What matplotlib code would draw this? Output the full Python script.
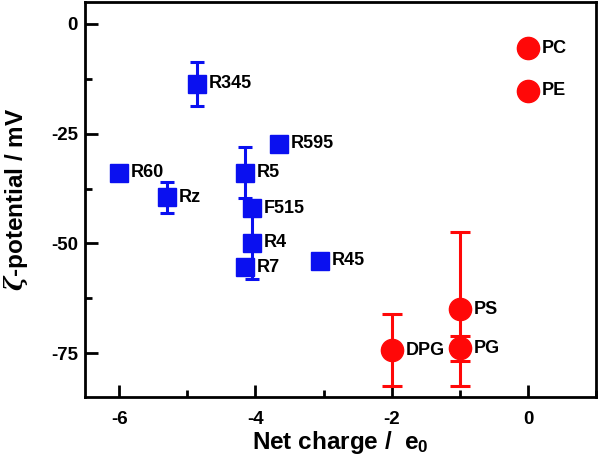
import numpy as np
import matplotlib.pyplot as plt
from matplotlib.ticker import MultipleLocator

plt.rcParams['font.family'] = ['Liberation Sans', 'DejaVu Sans']
plt.rcParams['font.weight'] = 'bold'
plt.rcParams['mathtext.fontset'] = 'custom'
plt.rcParams['mathtext.it'] = 'DejaVu Serif:italic'
plt.rcParams['mathtext.rm'] = 'Liberation Sans'
plt.rcParams['mathtext.bf'] = 'Liberation Sans:bold'
plt.rcParams['axes.unicode_minus'] = False

# peptides (blue squares)
pep_names = ['R345', 'R60', 'Rz', 'R5', 'F515', 'R4', 'R7', 'R595', 'R45']
pep_x = [-4.85, -6.0, -5.3, -4.15, -4.05, -4.05, -4.15, -3.65, -3.05]
pep_y = [-13.6, -33.9, -39.5, -33.9, -42.0, -49.8, -55.4, -27.3, -53.9]
pep_err = [5.0, 0, 3.5, 5.8, 0, 8.3, 0, 0, 0]

# lipids (red circles)
lip_names = ['PC', 'PE', 'PS', 'PG', 'DPG']
lip_x = [0.0, 0.0, -1.0, -1.0, -2.0]
lip_y = [-5.5, -15.2, -65.0, -73.9, -74.3]
lip_err = [0, 0, 17.5, 2.9, 8.3]

blue = '#0a10f0'
red = '#ff0808'

fig = plt.figure(figsize=(6, 4.58), dpi=100)
ax = fig.add_axes([0.1417, 0.1332, 0.852, 0.8624])


def draw(xs, ys, errs, names, marker, color, ms, cap):
    xs, ys, errs = np.array(xs), np.array(ys), np.array(errs)
    m = errs > 0
    ax.errorbar(xs[m], ys[m], yerr=errs[m], fmt='none', ecolor=color,
                elinewidth=2.2, capsize=cap, capthick=2.2, zorder=2)
    ax.plot(xs, ys, marker, color=color, ms=ms, zorder=3)
    for n, x, y in zip(names, xs, ys):
        ax.annotate(n, (x, y), xytext=(ms * 0.55 + 1, 0), textcoords='offset points',
                    va='center', ha='left', fontsize=13, fontweight='bold')


draw(pep_x, pep_y, pep_err, pep_names, 's', blue, 13.5, 5)
draw(lip_x, lip_y, lip_err, lip_names, 'o', red, 16, 7)

ax.set_xlim(-6.5, 1)
ax.set_ylim(-85, 5)
ax.xaxis.set_major_locator(MultipleLocator(2))
ax.xaxis.set_minor_locator(MultipleLocator(1))
ax.yaxis.set_major_locator(MultipleLocator(25))
ax.yaxis.set_minor_locator(MultipleLocator(12.5))
ax.tick_params(which='major', direction='in', width=2, length=9, labelsize=13.5)
ax.tick_params(which='minor', direction='in', width=2, length=5)
ax.tick_params(axis='x', which='major', pad=10)
ax.tick_params(axis='y', which='major', pad=5)
for s in ax.spines.values():
    s.set_linewidth(2)

ax.set_xlabel('Net charge /  e$_{\\mathrm{0}}$', fontsize=17.5, fontweight='bold', labelpad=1)
ax.set_ylabel('$\\zeta$-potential / mV', fontsize=17.5, fontweight='bold', labelpad=15)

fig.savefig('out.png', dpi=100)
